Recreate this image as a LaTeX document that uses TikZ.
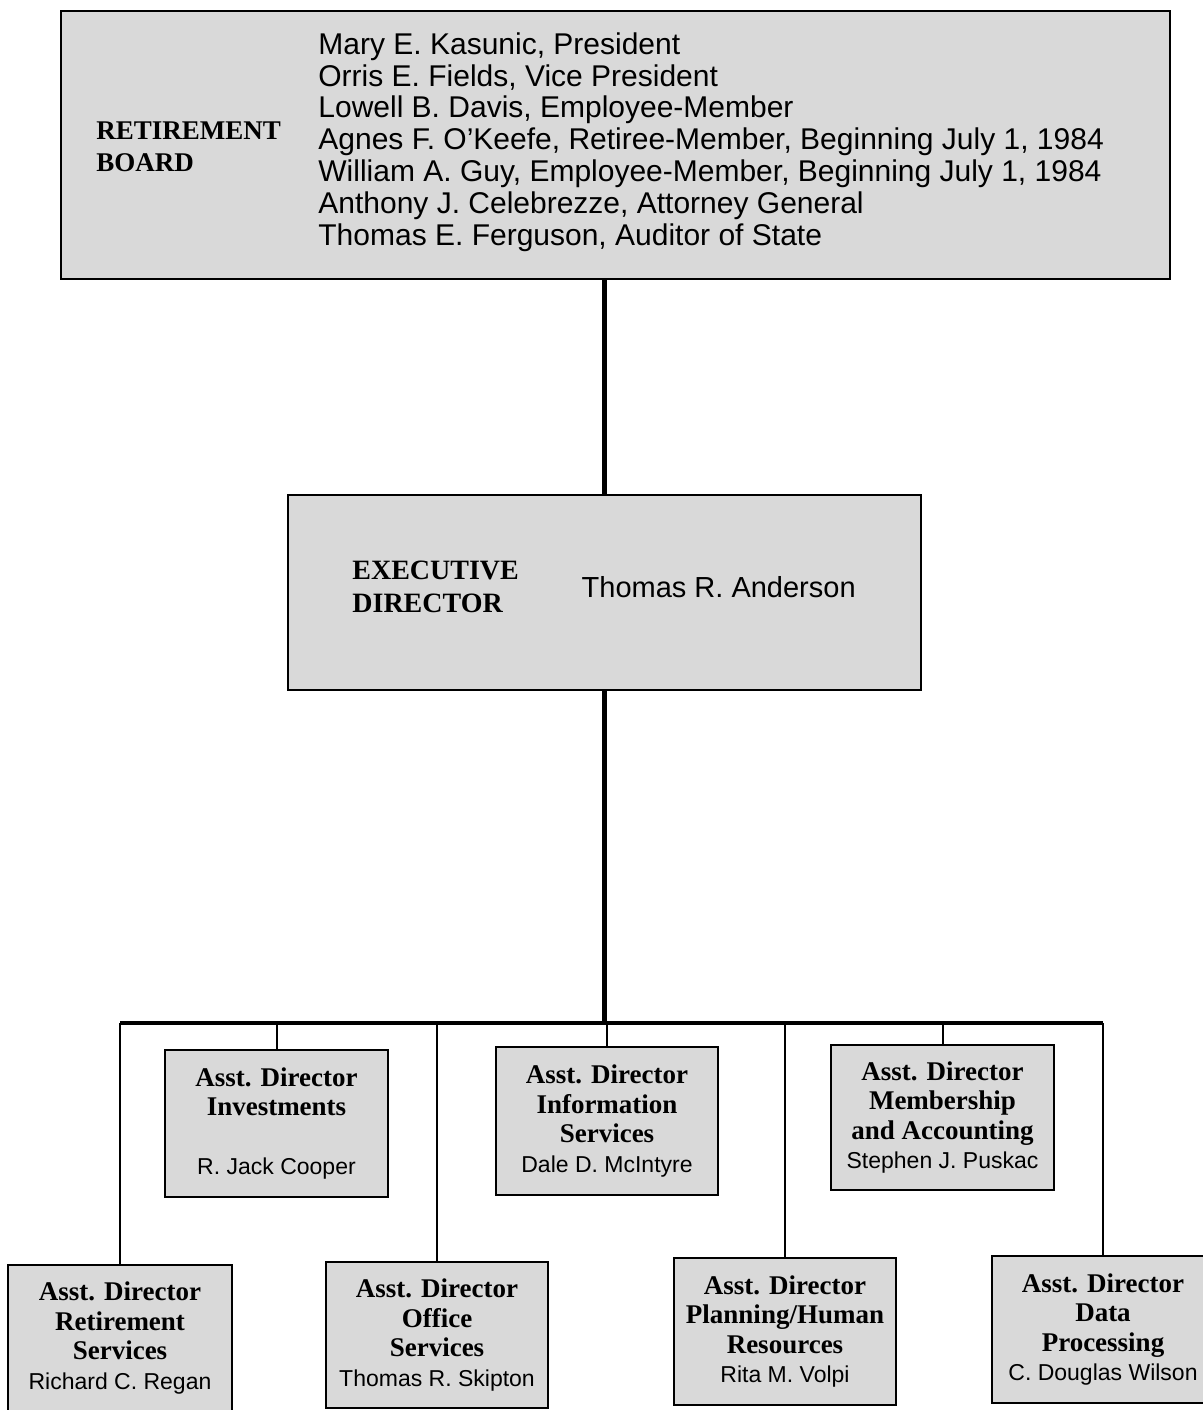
\documentclass[tikz,border=0pt]{standalone}
\usepackage{fontspec}
\setmainfont{Liberation Serif}
\setsansfont{Liberation Sans}
\usetikzlibrary{positioning}
\definecolor{boxgray}{gray}{0.85}
\newcommand{\staff}[1]{{\sffamily\mdseries\fontsize{11.5}{14.75}\selectfont #1}}

\begin{document}
\begin{tikzpicture}[x=0.5pt,y=-0.5pt,
  box/.style={draw,line width=1.4pt,fill=boxgray,inner sep=0pt,align=center,
    font=\fontsize{13.5}{14.75}\selectfont\bfseries},
  label/.style={inner sep=0pt,align=left},
  trunk/.style={line width=2.4pt},
  drop/.style={line width=1pt}]
\clip (0,0) rectangle (1203,1410);
%\draw[step=50,gray,very thin] (0,0) grid (1203,1410); %background grid

% board
\node[box,minimum width=554.5pt,minimum height=134pt] (board) at (615.5,145) {};
\node[label,anchor=west,font=\fontsize{13.5}{16}\selectfont\bfseries] (boardlbl) at (96,147) {RETIREMENT\\BOARD};
\node[label,anchor=west,font=\sffamily\fontsize{15}{15.9}\selectfont] (members) at (318,142)
  {Mary E. Kasunic, President\\
   Orris E. Fields, Vice President\\
   Lowell B. Davis, Employee-Member\\
   Agnes F. O'Keefe, Retiree-Member, Beginning July 1, 1984\\
   William A. Guy, Employee-Member, Beginning July 1, 1984\\
   Anthony J. Celebrezze, Attorney General\\
   Thomas E. Ferguson, Auditor of State};

% executive director
\node[box,minimum width=316.5pt,minimum height=97.5pt] (exec) at (604.5,592.5) {};
\node[label,anchor=west,font=\fontsize{14}{16.5}\selectfont\bfseries] (execlbl) at (352,587) {EXECUTIVE\\DIRECTOR};
\node[label,right=31pt of execlbl,font=\sffamily\fontsize{14.5}{17}\selectfont] (execname) {Thomas R. Anderson};

% assistant directors
\node[box,minimum width=112pt,minimum height=73pt] (rsvc) at (120,1338)
  {Asst. Director\\Retirement\\Services\\\staff{Richard C. Regan}};
\node[box,minimum width=111.5pt,minimum height=73.5pt] (inv) at (276.5,1123.5)
  {Asst. Director\\Investments\\ \\\staff{R. Jack Cooper}};
\node[box,minimum width=111pt,minimum height=73pt] (office) at (437,1335)
  {Asst. Director\\Office\\Services\\\staff{Thomas R. Skipton}};
\node[box,minimum width=111pt,minimum height=74pt] (info) at (607,1121)
  {Asst. Director\\Information\\Services\\\staff{Dale D. McIntyre}};
\node[box,minimum width=111pt,minimum height=73.5pt] (plan) at (785,1331.5)
  {Asst. Director\\Planning/Human\\Resources\\\staff{Rita M. Volpi}};
\node[box,minimum width=111.5pt,minimum height=72.5pt] (memb) at (942.5,1117.5)
  {Asst. Director\\Membership\\and Accounting\\\staff{Stephen J. Puskac}};
\node[box,minimum width=111pt,minimum height=73.5pt] (data) at (1103,1329.5)
  {Asst. Director\\Data\\Processing\\\staff{C. Douglas Wilson}};

% connectors
\coordinate (hub) at (604.5,1023);
\draw[trunk] (exec.north |- board.south) -- (exec.north);
\draw[trunk] (exec.south) -- (hub);
\draw[line width=2pt] (rsvc.north |- hub) -- (data.north |- hub);
\foreach \b in {rsvc,inv,office,info,plan,memb,data}
  \draw[drop] (\b.north |- hub) -- (\b.north);
\end{tikzpicture}
\end{document}
